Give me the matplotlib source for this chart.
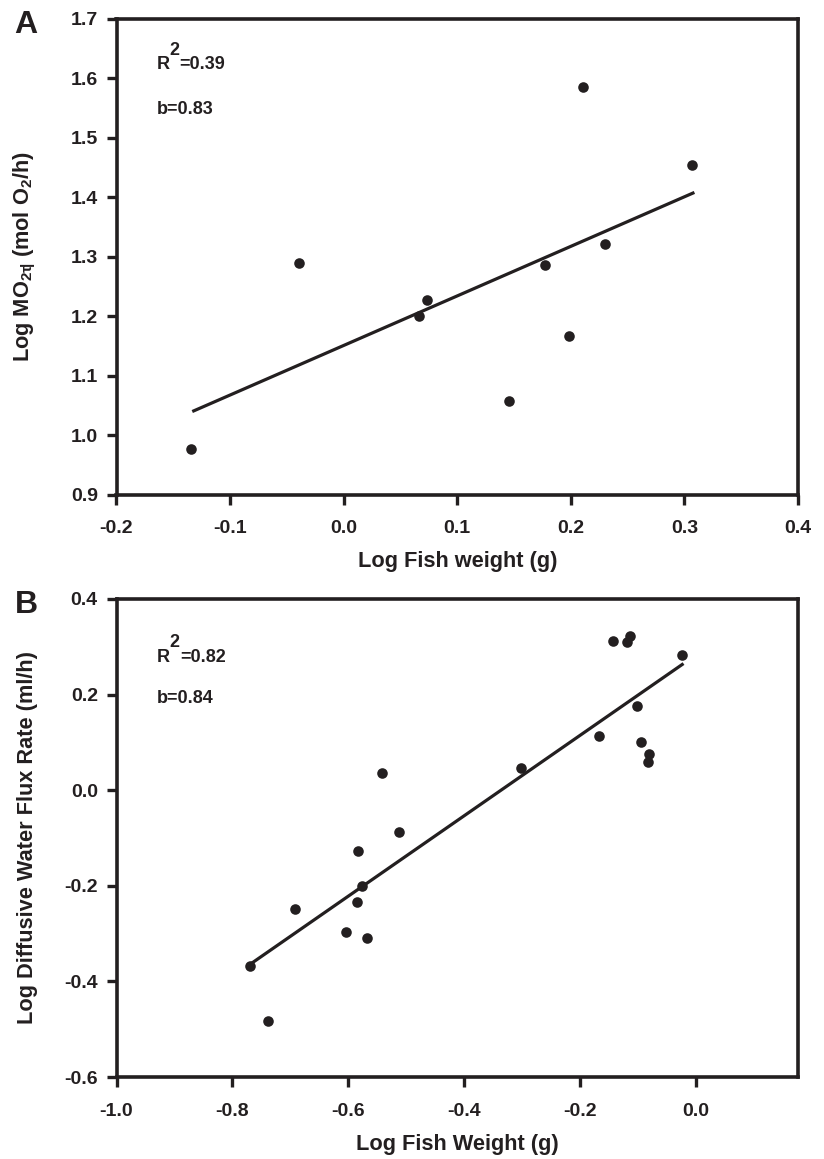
import matplotlib
matplotlib.use("Agg")
import matplotlib.pyplot as plt

plt.rcParams['font.family'] = ['Liberation Sans', 'DejaVu Sans']
plt.rcParams['font.weight'] = 'bold'
plt.rcParams['axes.unicode_minus'] = False
plt.rcParams['mathtext.fontset'] = 'custom'
plt.rcParams['mathtext.rm'] = 'Liberation Sans:bold'
plt.rcParams['mathtext.it'] = 'Liberation Sans:bold'
plt.rcParams['mathtext.bf'] = 'Liberation Sans:bold'

INK = '#231f20'

# Panel A data
a_weight = [-0.134, -0.039, 0.066, 0.073, 0.146, 0.177, 0.198, 0.211, 0.230, 0.307]
a_mo2 = [0.977, 1.290, 1.201, 1.227, 1.057, 1.286, 1.167, 1.586, 1.322, 1.455]
a_fit_x = [-0.132, 0.3075]
a_fit_y = [1.041, 1.407]
a_xticks = [-0.2, -0.1, 0.0, 0.1, 0.2, 0.3, 0.4]
a_yticks = [0.9, 1.0, 1.1, 1.2, 1.3, 1.4, 1.5, 1.6, 1.7]

# Panel B data
b_weight = [-0.769, -0.739, -0.691, -0.603, -0.585, -0.583, -0.576, -0.568, -0.542, -0.512,
            -0.302, -0.167, -0.143, -0.118, -0.113, -0.101, -0.094, -0.080, -0.082, -0.023]
b_flux = [-0.367, -0.483, -0.249, -0.297, -0.234, -0.127, -0.200, -0.309, 0.036, -0.087,
          0.047, 0.114, 0.313, 0.309, 0.323, 0.176, 0.100, 0.076, 0.060, 0.282]
b_fit_x = [-0.769, -0.023]
b_fit_y = [-0.364, 0.263]
b_xticks = [-1.0, -0.8, -0.6, -0.4, -0.2, 0.0]
b_yticks = [-0.6, -0.4, -0.2, 0.0, 0.2, 0.4]

W, H = 824, 1159
fig = plt.figure(figsize=(W / 100, H / 100), dpi=100)


def fx(px):
    return px / W


def fy(py):
    return 1 - py / H


def style(ax):
    for s in ax.spines.values():
        s.set_linewidth(2.6)
        s.set_color(INK)
    ax.tick_params(direction='out', length=7.5, width=2.4, color=INK,
                   labelsize=14, labelcolor=INK, top=False, right=False)
    ax.tick_params(axis='x', pad=11)
    ax.tick_params(axis='y', pad=6)


# Panel A
axA = fig.add_axes([fx(116.5), fy(494.8), fx(798) - fx(116.5), fy(18.7) - fy(494.8)])
axA.scatter(a_weight, a_mo2, s=58, color=INK, zorder=3, linewidths=0)
axA.plot(a_fit_x, a_fit_y, color=INK, lw=2.3)
axA.set_xlim(-0.2, 0.4)
axA.set_ylim(0.9, 1.7)
axA.set_xticks(a_xticks)
axA.set_yticks(a_yticks)
axA.set_xticklabels([f"{v:.1f}" for v in a_xticks])
axA.set_yticklabels([f"{v:.1f}" for v in a_yticks])
style(axA)
axA.set_xlabel("Log Fish weight (g)", fontsize=15.7, fontweight='bold', color=INK, labelpad=10)
axA.set_ylabel(r"Log MO$_{2\tau\!|}$ (mol O$_2$/h)", fontsize=15.7, fontweight='bold', color=INK)
axA.yaxis.set_label_coords((38 - 116.5) / 681.5, 0.5)

# Panel B
axB = fig.add_axes([fx(116.5), fy(1077), fx(798) - fx(116.5), fy(599) - fy(1077)])
axB.scatter(b_weight, b_flux, s=58, color=INK, zorder=3, linewidths=0)
axB.plot(b_fit_x, b_fit_y, color=INK, lw=2.3)
axB.set_xlim(-1.0, 0.177)
axB.set_ylim(-0.6, 0.4)
axB.set_xticks(b_xticks)
axB.set_yticks(b_yticks)
axB.set_xticklabels([f"{v:.1f}" for v in b_xticks])
axB.set_yticklabels([f"{v:.1f}" for v in b_yticks])
style(axB)
axB.set_xlabel("Log Fish Weight (g)", fontsize=15.7, fontweight='bold', color=INK, labelpad=10)
axB.set_ylabel("Log Diffusive Water Flux Rate (ml/h)", fontsize=15.7, fontweight='bold', color=INK)
axB.yaxis.set_label_coords((38 - 116.5) / 681.5, 0.5)

# Annotations
kw = dict(fontsize=13, fontweight='bold', color=INK, va='baseline', ha='left')
fig.text(fx(157), fy(69), "R", **kw)
fig.text(fx(169), fy(55), "2", **kw)
fig.text(fx(179), fy(69), "=0.39", **kw)
fig.text(fx(157), fy(114), "b=0.83", **kw)

fig.text(fx(157), fy(662), "R", **kw)
fig.text(fx(169), fy(647), "2", **kw)
fig.text(fx(180), fy(662), "=0.82", **kw)
fig.text(fx(157), fy(703), "b=0.84", **kw)

# Panel letters
fig.text(fx(14), fy(33), "A", fontsize=23, fontweight='bold', color=INK, va='baseline', ha='left')
fig.text(fx(15), fy(613), "B", fontsize=23, fontweight='bold', color=INK, va='baseline', ha='left')

fig.savefig("out.png", dpi=100)
